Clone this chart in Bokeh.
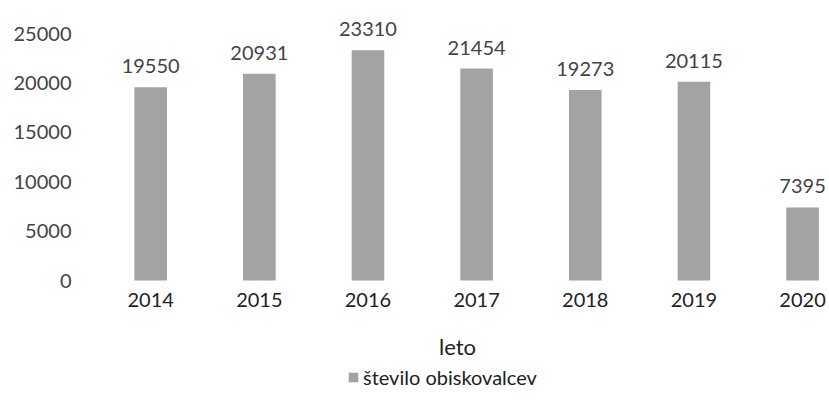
from bokeh.plotting import figure
from bokeh.models import ColumnDataSource, Range1d, FixedTicker, Legend, LegendItem, LabelSet
from bokeh.core.properties import value
from bokeh.embed import file_html
from bokeh.resources import INLINE

years = [2014, 2015, 2016, 2017, 2018, 2019, 2020]
visitors = [19550, 20931, 23310, 21454, 19273, 20115, 7395]
y_ticks = [0, 5000, 10000, 15000, 20000, 25000]
series_name = "število obiskovalcev"
x_title = "leto"

FONT = "Lato"
TXT = "#444444"
XTXT = "#222222"
BAR = "#a3a3a3"

src = ColumnDataSource(dict(x=years, y=visitors, lab=[str(v) for v in visitors]))

p = figure(frame_width=744, frame_height=378, output_backend="svg", toolbar_location=None,
           x_range=Range1d(2013.40, 2020.248), y_range=Range1d(-11942, 26316),
           min_border_left=85, min_border_top=20, min_border_right=0, min_border_bottom=0)
p.outline_line_color = None
p.grid.grid_line_color = None

r = p.vbar(x="x", top="y", bottom=0, width=0.30, source=src,
           fill_color=BAR, line_color=None)

labels = LabelSet(x="x", y="y", text="lab", source=src, text_align="center",
                  text_baseline="bottom", y_offset=14, text_font=value(FONT),
                  text_font_size="20px", text_color=TXT)
p.add_layout(labels)

p.yaxis.ticker = FixedTicker(ticks=y_ticks)
p.xaxis.ticker = FixedTicker(ticks=years)
p.xaxis.fixed_location = -500
for ax in (p.xaxis, p.yaxis):
    ax.axis_line_color = None
    ax.major_tick_line_color = None
    ax.minor_tick_line_color = None
    ax.major_tick_out = 0
    ax.major_tick_in = 0
    ax.major_label_text_font = FONT
    ax.major_label_text_font_size = "20px"
p.yaxis.major_label_text_color = TXT
p.xaxis.major_label_text_color = XTXT
p.yaxis.major_label_standoff = 14
p.xaxis.major_label_standoff = 8
p.xaxis.axis_label = x_title
p.xaxis.axis_label_text_font = FONT
p.xaxis.axis_label_text_font_size = "22px"
p.xaxis.axis_label_text_font_style = "normal"
p.xaxis.axis_label_text_color = XTXT
p.xaxis.axis_label_standoff = 22

legend = Legend(items=[LegendItem(label=series_name, renderers=[r])],
                orientation="horizontal", location=(262, 9),
                label_text_font=FONT, label_text_font_size="20px",
                label_text_color=XTXT, glyph_width=12, glyph_height=12,
                label_height=20,
                border_line_color=None, background_fill_alpha=0,
                padding=0, margin=0, label_standoff=4, spacing=0)
p.add_layout(legend, "center")

open("out.html", "w").write(file_html(p, INLINE))
